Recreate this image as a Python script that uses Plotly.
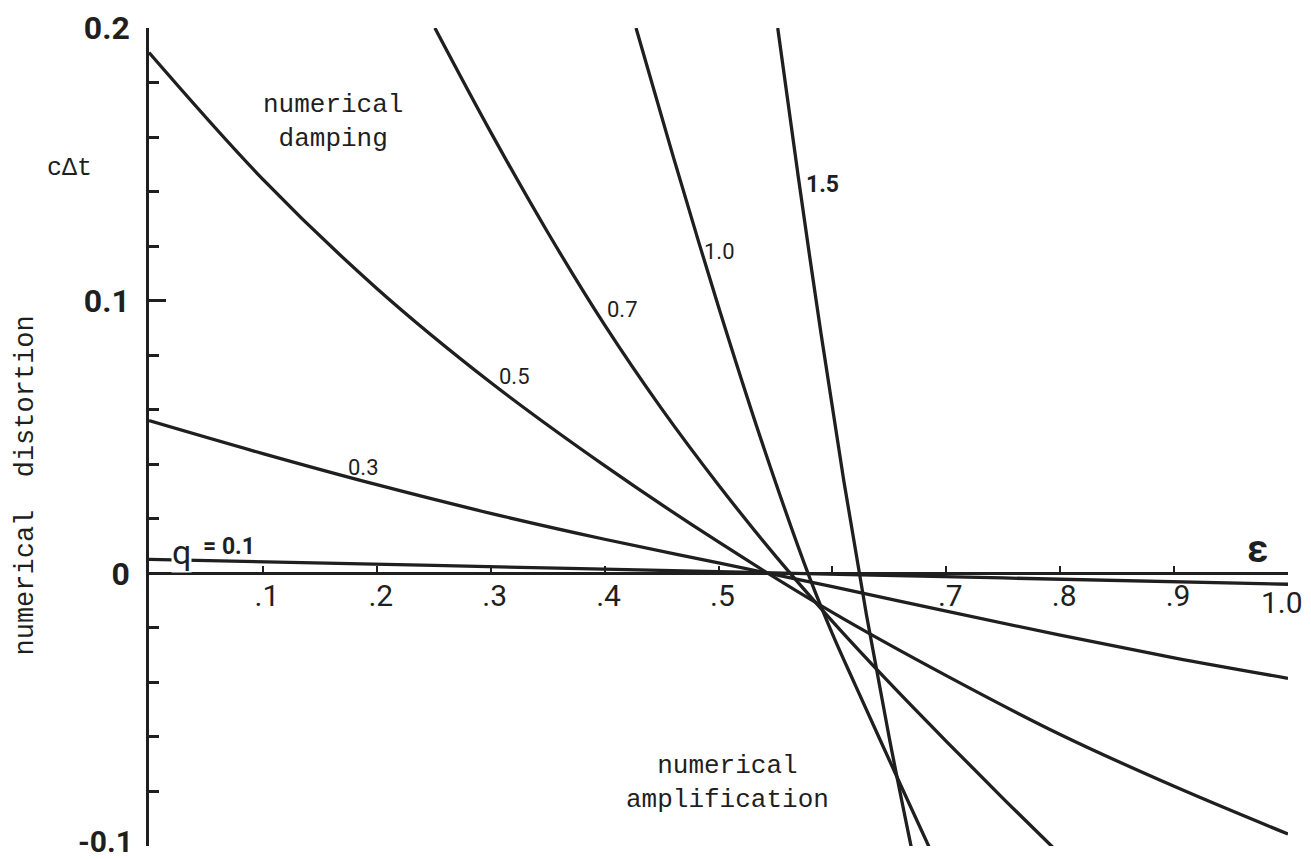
import plotly.graph_objects as go

# Numerical distortion versus epsilon for several values of q = c*dt
eps_q01 = [0.0, 0.25, 0.5, 0.75, 1.0]
dist_q01 = [0.0051, 0.0029, 0.0006, -0.0017, -0.0040]

eps_q03 = [0.0, 0.1, 0.2, 0.3, 0.4, 0.5, 0.6, 0.7, 0.8, 0.9, 1.0]
dist_q03 = [0.056, 0.0439, 0.0325, 0.022, 0.0125, 0.0038, -0.0049, -0.0139, -0.0227, -0.031, -0.0385]

eps_q05 = [0.0, 0.1, 0.2, 0.3, 0.4, 0.5, 0.6, 0.7, 0.8, 0.9, 1.0]
dist_q05 = [0.191, 0.1445, 0.1045, 0.070, 0.0395, 0.0115, -0.0143, -0.0375, -0.0591, -0.0781, -0.0956]

eps_q07 = [0.251, 0.30, 0.35, 0.40, 0.45, 0.50, 0.55, 0.60, 0.65, 0.70, 0.75, 0.80]
dist_q07 = [0.2, 0.1618, 0.1251, 0.0911, 0.0604, 0.0324, 0.0064, -0.0176, -0.0401, -0.0616, -0.0826, -0.1031]

eps_q10 = [0.4276, 0.46, 0.50, 0.54, 0.58, 0.60, 0.62, 0.66, 0.69]
dist_q10 = [0.2, 0.1532, 0.0978, 0.0458, -0.0016, -0.0222, -0.0409, -0.0777, -0.105]

eps_q15 = [0.552, 0.57, 0.59, 0.61, 0.63, 0.65, 0.67]
dist_q15 = [0.2, 0.1455, 0.088, 0.034, -0.0155, -0.0605, -0.102]

x_tick_vals = [0.1, 0.2, 0.3, 0.4, 0.5, 0.6, 0.7, 0.8, 0.9, 1.0]
x_tick_text = [".1", ".2", ".3", ".4", ".5", "", ".7", ".8", ".9", ""]
y_tick_vals = [-0.1, 0.0, 0.1, 0.2]
y_tick_text = ["", "0", "0.1", "0.2"]
y_minor_vals = [-0.08, -0.06, -0.04, -0.02, 0.02, 0.04, 0.06, 0.08,
                0.12, 0.14, 0.16, 0.18]

INK = "#1f1f1f"
series = [
    (eps_q01, dist_q01),
    (eps_q03, dist_q03),
    (eps_q05, dist_q05),
    (eps_q07, dist_q07),
    (eps_q10, dist_q10),
    (eps_q15, dist_q15),
]

fig = go.Figure()
for xs, ys in series:
    fig.add_trace(go.Scatter(
        x=xs, y=ys, mode="lines",
        line=dict(color=INK, width=3.3, shape="spline", smoothing=1.0),
        hoverinfo="skip", showlegend=False,
    ))

mono = "Liberation Mono"
sans = "Roboto"

annotations = [
    dict(x=0.1615, y=0.1656, text="numerical<br>damping",
         font=dict(family=mono, size=26, color=INK)),
    dict(x=0.5075, y=-0.0769, text="numerical<br>amplification",
         font=dict(family=mono, size=26, color=INK)),
    dict(x=-0.0694, y=0.1484, xref="paper", text="c\u0394t",
         font=dict(family=mono, size=25, color=INK)),
    dict(x=-0.1080, y=0.0322, xref="paper", text="numerical\u00a0\u00a0distortion",
         textangle=-90, font=dict(family=mono, size=27, color=INK)),
    dict(x=0.9728, y=0.0088, text="\u03b5",
         font=dict(family=sans, size=38, color=INK, weight="bold")),
    dict(x=0.1879, y=0.0388, text="0.3", font=dict(family=sans, size=22, color=INK)),
    dict(x=0.3205, y=0.0722, text="0.5", font=dict(family=sans, size=22, color=INK)),
    dict(x=0.4153, y=0.0967, text="0.7", font=dict(family=sans, size=22, color=INK)),
    dict(x=0.5013, y=0.1179, text="1.0", font=dict(family=sans, size=22, color=INK)),
    dict(x=0.5909, y=0.1425, text="1.5",
         font=dict(family=sans, size=23, color=INK, weight="bold")),
    dict(x=0.0281, y=0.0080, text="q", bgcolor="white", borderpad=0,
         font=dict(family=sans, size=34, color=INK)),
    dict(x=0.0700, y=0.0099, text="= 0.1",
         font=dict(family=sans, size=23, color=INK, weight="bold")),
    # end-of-axis tick labels placed by hand so they stay inside the page
    dict(x=0.9947, y=-0.0108, text="1.0",
         font=dict(family=sans, size=30, color=INK)),
    dict(x=-0.0123, xref="paper", y=-0.1, yshift=5, xanchor="right",
         text="-0.1", font=dict(family=sans, size=30, color=INK, weight="bold")),
]
for a in annotations:
    a.setdefault("xref", "x")
    a.setdefault("yref", "y")
    a.setdefault("xanchor", "center")
    a["showarrow"] = False
    a["yanchor"] = "middle"

fig.update_layout(
    width=1311, height=860,
    margin=dict(l=149, r=23, t=28, b=14, autoexpand=False),
    paper_bgcolor="white", plot_bgcolor="white",
    showlegend=False,
    annotations=annotations,
    xaxis=dict(
        range=[0, 1.0], anchor="free", position=1 / 3,
        showline=True, linecolor=INK, linewidth=2.5,
        ticks="inside", ticklen=7, tickwidth=2, tickcolor=INK,
        tickvals=x_tick_vals, ticktext=x_tick_text,
        tickfont=dict(family=sans, size=30, color=INK),
        ticklabelshift=4, ticklabelstandoff=-5,
        ticklabeloverflow="allow", automargin=False,
        showgrid=False, zeroline=False, fixedrange=True,
    ),
    yaxis=dict(
        range=[-0.1, 0.2],
        showline=True, linecolor=INK, linewidth=2.5,
        ticks="inside", ticklen=17, tickwidth=2.5, tickcolor=INK,
        tickvals=y_tick_vals, ticktext=y_tick_text,
        tickfont=dict(family=sans, size=32, color=INK, weight="bold"),
        ticklabelstandoff=10, ticklabeloverflow="allow", automargin=False,
        minor=dict(tickvals=y_minor_vals, ticks="inside", ticklen=10,
                   tickwidth=2.5, tickcolor=INK, showgrid=False),
        showgrid=False, zeroline=False, fixedrange=True,
    ),
)

fig.write_html("out.html")
